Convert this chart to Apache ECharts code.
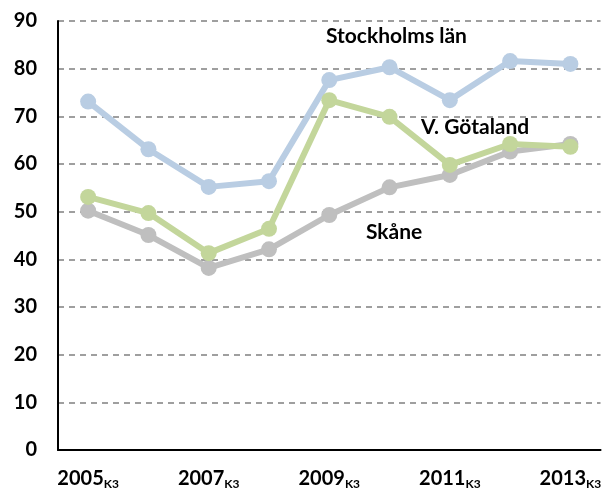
<!DOCTYPE html>
<html>
<head>
<meta charset="utf-8">
<script src="https://cdn.jsdelivr.net/npm/echarts@6/dist/echarts.min.js"></script>
<style>
  html, body { margin: 0; padding: 0; background: #fff; }
  #chart { width: 604px; height: 490px; }
</style>
</head>
<body>
<div id="chart"></div>
<script>
// Quarter 3 of each year, 2005-2013
const years = ["2005", "2006", "2007", "2008", "2009", "2010", "2011", "2012", "2013"];

const stockholm = [73.1, 63.1, 55.2, 56.4, 77.6, 80.3, 73.4, 81.6, 81.0];
const skane = [50.2, 45.1, 38.2, 42.1, 49.3, 55.1, 57.7, 62.6, 64.2];
const gotaland = [53.1, 49.7, 41.3, 46.4, 73.4, 69.9, 59.8, 64.2, 63.6];

const yTicks = [0, 10, 20, 30, 40, 50, 60, 70, 80, 90];

const FONT = "Lato, 'Liberation Sans', sans-serif";

function lineSeries(name, data, color, z) {
  return {
    name: name,
    type: "line",
    data: data,
    z: z,
    symbol: "circle",
    symbolSize: 16,
    lineStyle: { color: color, width: 6 },
    itemStyle: { color: color },
    silent: true,
    label: { show: false },
  };
}

const option = {
  animation: false,
  backgroundColor: "#fff",
  textStyle: { fontFamily: FONT },
  grid: { left: 58, right: 0, top: 21, bottom: 39, containLabel: false },
  xAxis: {
    type: "category",
    data: years,
    boundaryGap: true,
    axisLine: { show: true, lineStyle: { color: "#000", width: 2 } },
    axisTick: { show: false },
    axisLabel: {
      interval: 1,
      margin: 18,
      formatter: (v) => `{y|${v}}{k|K3}`,
      rich: {
        y: { fontFamily: FONT, fontWeight: "bold", fontSize: 20, color: "#000" },
        k: { fontFamily: FONT, fontWeight: "bold", fontSize: 12, color: "#000", padding: [10, 0, 0, 0] },
      },
    },
    splitLine: { show: false },
  },
  yAxis: {
    type: "value",
    min: yTicks[0],
    max: yTicks[yTicks.length - 1],
    interval: 10,
    axisLine: { show: true, lineStyle: { color: "#000", width: 2 } },
    axisTick: { show: false },
    axisLabel: {
      margin: 21,
      fontFamily: FONT,
      fontWeight: "bold",
      fontSize: 20,
      color: "#000",
    },
    splitLine: {
      show: true,
      lineStyle: { color: "#808080", type: [6, 5], width: 1.5 },
    },
  },
  series: [
    lineSeries("Stockholms län", stockholm, "#B9CDE3", 3),
    lineSeries("Skåne", skane, "#BFBFBF", 4),
    lineSeries("V. Götaland", gotaland, "#C3D69B", 5),
  ],
  graphic: [
    { type: "text", left: 326, top: 26, style: { text: "Stockholms län", font: "bold 21px " + FONT, fill: "#000" } },
    { type: "text", left: 421, top: 117, style: { text: "V. Götaland", font: "bold 21px " + FONT, fill: "#000" } },
    { type: "text", left: 366, top: 222, style: { text: "Skåne", font: "bold 21px " + FONT, fill: "#000" } },
  ],
};

const chart = echarts.init(document.getElementById("chart"), null, { renderer: "canvas" });
chart.setOption(option);
</script>
</body>
</html>
